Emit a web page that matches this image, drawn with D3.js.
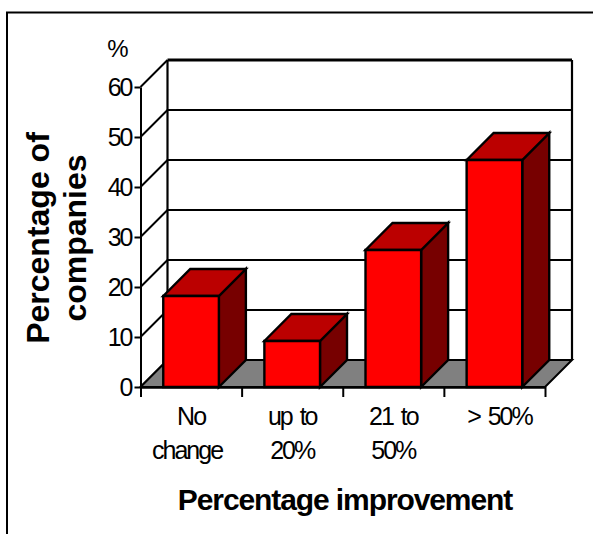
<!DOCTYPE html>
<html>
<head>
<meta charset="utf-8">
<script src="https://cdn.jsdelivr.net/npm/d3@7"></script>
<style>
  html, body { margin: 0; padding: 0; background: #fff; }
  svg { display: block; }
  text { font-family: "Liberation Sans", Arial, sans-serif; fill: #000; }
</style>
</head>
<body>
<div id="chart"></div>
<script>
// Values
const categories = ["No change", "up to 20%", "21 to 50%", "> 50%"];
const categoryLines = [["No", "change"], ["up to", "20%"], ["21 to", "50%"], ["> 50%"]];
const percentages = [18.2, 9.2, 27.4, 45.4];
const yTicks = [0, 10, 20, 30, 40, 50, 60];

const width = 593, height = 534;
const depth = 27;  // 3D offset of the back wall

const svg = d3.select("#chart").append("svg")
    .attr("width", width)
    .attr("height", height);

// Outer frame, only top and left are visible in the crop
svg.append("path")
    .attr("d", `M7,${height} V12.5 H${width}`)
    .attr("fill", "none")
    .attr("stroke", "#000")
    .attr("stroke-width", 2);

const x = d3.scaleBand()
    .domain(categories)
    .range([140.5, 545])
    .paddingInner(0.45)
    .paddingOuter(0.225);

const y = d3.scaleLinear()
    .domain([0, 60])
    .range([387, 87]);

const x0 = x.range()[0], x1 = x.range()[1];
const poly = pts => "M" + pts.map(p => p.join(",")).join("L") + "Z";

// Back wall with gridlines and side wall diagonals
const wall = svg.append("g").attr("stroke", "#000").attr("fill", "none");

wall.selectAll(".grid")
    .data(yTicks)
    .enter().append("line")
    .attr("x1", x0 + depth)
    .attr("x2", x1 + depth)
    .attr("y1", d => y(d) - depth)
    .attr("y2", d => y(d) - depth)
    .attr("stroke-width", d => d === 60 ? 3 : 2);

wall.selectAll(".diag")
    .data(yTicks)
    .enter().append("line")
    .attr("x1", x0)
    .attr("x2", x0 + depth)
    .attr("y1", d => y(d))
    .attr("y2", d => y(d) - depth)
    .attr("stroke-width", 2);

wall.append("line")
    .attr("x1", x0 + depth).attr("x2", x0 + depth)
    .attr("y1", y(60) - depth).attr("y2", y(0) - depth)
    .attr("stroke-width", 2.2);

wall.append("line")
    .attr("x1", x1 + depth).attr("x2", x1 + depth)
    .attr("y1", y(60) - depth).attr("y2", y(0) - depth)
    .attr("stroke-width", 2.2);

// Floor
svg.append("path")
    .attr("d", poly([[x0, y(0)], [x0 + depth, y(0) - depth], [x1 + depth, y(0) - depth], [x1, y(0)]]))
    .attr("fill", "#808080")
    .attr("stroke", "#000")
    .attr("stroke-width", 2);

// Bars: side, top, then front
const bars = svg.append("g")
    .selectAll("g")
    .data(percentages)
    .enter().append("g")
    .attr("stroke", "#000")
    .attr("stroke-width", 2.4)
    .attr("stroke-linejoin", "miter");

const barLeft = (d, i) => x(categories[i]);
const barRight = (d, i) => x(categories[i]) + x.bandwidth();

bars.append("path")
    .attr("fill", "#770000")
    .attr("d", (d, i) => poly([
        [barRight(d, i), y(0)], [barRight(d, i) + depth, y(0) - depth],
        [barRight(d, i) + depth, y(d) - depth], [barRight(d, i), y(d)]
    ]));

bars.append("path")
    .attr("fill", "#bb0000")
    .attr("d", (d, i) => poly([
        [barLeft(d, i), y(d)], [barLeft(d, i) + depth, y(d) - depth],
        [barRight(d, i) + depth, y(d) - depth], [barRight(d, i), y(d)]
    ]));

bars.append("path")
    .attr("fill", "#ff0000")
    .attr("d", (d, i) => poly([
        [barLeft(d, i), y(0)], [barLeft(d, i), y(d)],
        [barRight(d, i), y(d)], [barRight(d, i), y(0)]
    ]));

// Y axis
const yAxis = svg.append("g")
    .attr("transform", `translate(${x0},0)`)
    .call(d3.axisLeft(y).tickValues(yTicks).tickSize(6).tickPadding(3).tickSizeOuter(0));
yAxis.select(".domain").attr("stroke", "#000").attr("stroke-width", 2);
yAxis.selectAll(".tick line").attr("stroke", "#000").attr("stroke-width", 2);
yAxis.selectAll(".tick text")
    .style("font-size", "25px")
    .style("letter-spacing", "-2px")
    .style("font-family", '"Liberation Sans", Arial, sans-serif');

// X axis, ticks sit between the categories
const xEdges = d3.scaleLinear().domain([0, categories.length]).range([x0, x1]);
const xAxis = svg.append("g")
    .attr("transform", `translate(0,${y(0)})`)
    .call(d3.axisBottom(xEdges).tickValues(d3.range(categories.length + 1)).tickSize(10).tickFormat("").tickSizeOuter(0));
xAxis.select(".domain").attr("stroke", "#000").attr("stroke-width", 2.4);
xAxis.selectAll(".tick line").attr("stroke", "#000").attr("stroke-width", 2);

// Category labels, a couple of lines sit off centre in the original
const labelShift = t => t === "change" ? -4 : t === "> 50%" ? 5 : 0;

const catLabel = svg.append("g")
    .selectAll("text")
    .data(categoryLines)
    .enter().append("text")
    .attr("text-anchor", "middle")
    .style("font-size", "25px")
    .style("letter-spacing", "-2px")
    .style("word-spacing", "3px");

catLabel.selectAll("tspan")
    .data((d, i) => d.map(t => ({ t, cat: categories[i] })))
    .enter().append("tspan")
    .attr("x", d => x(d.cat) + x.bandwidth() / 2 + labelShift(d.t))
    .attr("y", (d, i) => 425 + i * 34)
    .text(d => d.t);

// Unit label
svg.append("text")
    .attr("x", 118)
    .attr("y", 57)
    .attr("text-anchor", "middle")
    .style("font-size", "24px")
    .text("%");

// Axis titles
const yTitle = svg.append("g")
    .attr("transform", "translate(49,238) rotate(-90)");
["Percentage of", "companies"].forEach((t, i) => {
    yTitle.append("text")
        .attr("y", i * 37)
        .attr("text-anchor", "middle")
        .style("font-size", "32px")
        .style("font-weight", "bold")
        .text(t);
});

svg.append("text")
    .attr("x", 345)
    .attr("y", 510)
    .attr("text-anchor", "middle")
    .style("font-size", "30px")
    .style("font-weight", "bold")
    .style("letter-spacing", "-1.1px")
    .text("Percentage improvement");
</script>
</body>
</html>
